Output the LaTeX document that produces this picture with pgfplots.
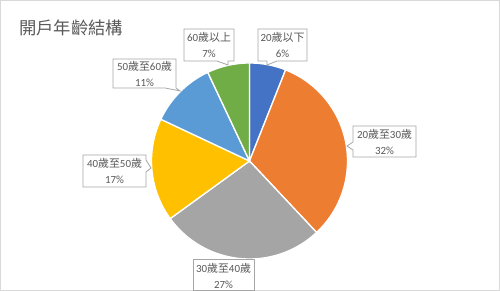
\documentclass[border=0pt]{standalone}
\usepackage{pgfplots}
\pgfplotsset{compat=1.18}
\usepackage{fontspec}
\setmainfont{Carlito}
\newfontfamily\cjk{Noto Sans CJK TC}
\definecolor{c1}{HTML}{4472C4}
\definecolor{c2}{HTML}{ED7D31}
\definecolor{c3}{HTML}{A5A5A5}
\definecolor{c4}{HTML}{FFC000}
\definecolor{c5}{HTML}{5B9BD5}
\definecolor{c6}{HTML}{70AD47}
\definecolor{txt}{HTML}{595959}
\definecolor{ttl}{HTML}{595959}
\definecolor{bx}{HTML}{A6A6A6}
\definecolor{frm}{HTML}{D9D9D9}
% slice from cumulative percent #1 to #2 (clockwise from 12 o'clock)
\newcommand{\slice}[3]{%
  \addplot[fill=#3, draw=white, line width=1pt, domain={90-3.6*#2}:{90-3.6*#1}, samples=80]
    ({249.5+98*cos(x)},{130+98*sin(x)}) -- (axis cs:249.5,130) -- cycle;}
\tikzset{callout/.style={draw=bx, fill=white, line width=0.6pt},
  lbl/.style={text=txt, align=center, font=\fontsize{8.2}{12}\selectfont, inner sep=0pt}}
\begin{document}
\begin{tikzpicture}
\begin{axis}[width=375pt, height=218.25pt, scale only axis,
  xmin=0, xmax=500, ymin=0, ymax=291, hide axis, clip=false]
\draw[frm, line width=0.75pt] (axis cs:0.5,0.5) rectangle (axis cs:499.5,290.5);
% values (percent): 6, 32, 27, 17, 11, 7
\slice{0}{6}{c1}
\slice{6}{38}{c2}
\slice{38}{65}{c3}
\slice{65}{82}{c4}
\slice{82}{93}{c5}
\slice{93}{100}{c6}
\node[anchor=west, text=ttl, font=\cjk\fontsize{13}{15}\selectfont, inner sep=0pt] at (axis cs:19,263.5) {開戶年齡結構};
% callouts
\draw[callout] (axis cs:258,262) -- (axis cs:307,262) -- (axis cs:307,230) -- (axis cs:277,230) -- (axis cs:267,226) -- (axis cs:267,230) -- (axis cs:258,230) -- cycle;
\node[lbl] at (axis cs:282.5,246) {20{\cjk 歲以下}\\6\%};
\draw[callout] (axis cs:184,262) -- (axis cs:234,262) -- (axis cs:234,230) -- (axis cs:228,230) -- (axis cs:228,226) -- (axis cs:217,230) -- (axis cs:184,230) -- cycle;
\node[lbl] at (axis cs:209,246) {60{\cjk 歲以上}\\7\%};
\draw[callout] (axis cs:113,232) -- (axis cs:176,232) -- (axis cs:176,203) -- (axis cs:180,200) -- (axis cs:165,203) -- (axis cs:113,203) -- cycle;
\node[lbl] at (axis cs:144.5,217.5) {50{\cjk 歲至}60{\cjk 歲}\\11\%};
\draw[callout] (axis cs:83,136) -- (axis cs:146,136) -- (axis cs:146,131) -- (axis cs:151,123) -- (axis cs:146,119) -- (axis cs:146,104) -- (axis cs:83,104) -- cycle;
\node[lbl] at (axis cs:114.5,120) {40{\cjk 歲至}50{\cjk 歲}\\17\%};
\draw[callout] (axis cs:193,32) -- (axis cs:254,32) -- (axis cs:254,1) -- (axis cs:193,1) -- cycle;
\node[lbl] at (axis cs:223.5,15.5) {30{\cjk 歲至}40{\cjk 歲}\\27\%};
\draw[callout] (axis cs:353,165) -- (axis cs:416,165) -- (axis cs:416,134) -- (axis cs:353,134) -- (axis cs:353,141) -- (axis cs:347,145) -- (axis cs:353,149) -- cycle;
\node[lbl] at (axis cs:384.5,149.5) {20{\cjk 歲至}30{\cjk 歲}\\32\%};
\end{axis}
\end{tikzpicture}
\end{document}
